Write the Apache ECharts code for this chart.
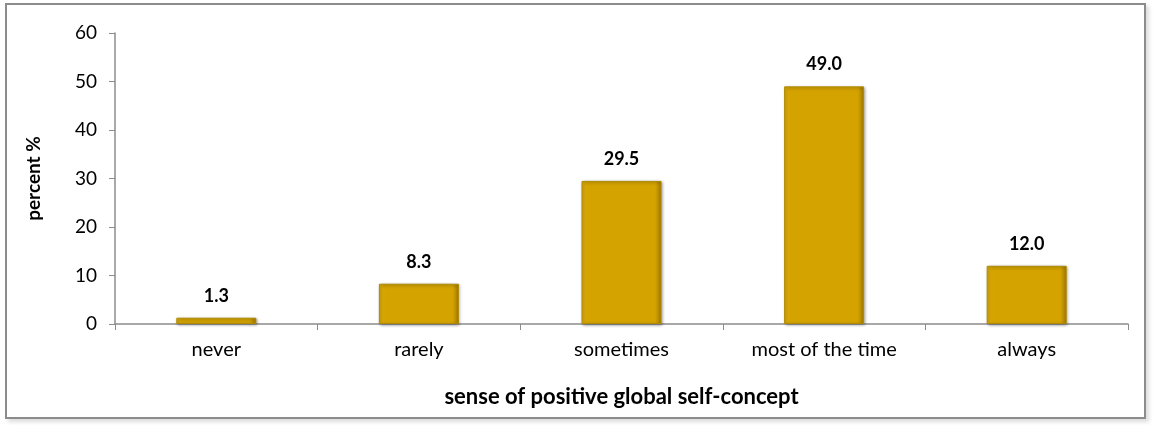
<!DOCTYPE html>
<html><head><meta charset="utf-8">
<script src="https://cdn.jsdelivr.net/npm/echarts@6/dist/echarts.min.js"></script>
<style>
html,body{margin:0;padding:0;background:#fff;}
#frame{position:absolute;left:5px;top:3px;width:1141px;height:416px;border:2px solid #8c8c8c;box-shadow:3px 3px 4px #ddd;box-sizing:border-box;}
#c{position:absolute;left:0;top:0;width:1154px;height:425px;}
</style></head>
<body>
<div id="frame"></div>
<div id="c"></div>
<script>
const categories = ['never','rarely','sometimes','most of the time','always'];
const values = [1.3, 8.3, 29.5, 49.0, 12.0];
const yTicks = [0,10,20,30,40,50,60];
const xTitle = 'sense of positive global self-concept';
const yTitle = 'percent %';

const chart = echarts.init(document.getElementById('c'), null, {renderer:'canvas'});
const font = 'Lato, "Open Sans", sans-serif';
chart.setOption({
  animation:false,
  grid:{left:115, right:26, top:33, bottom:101, containLabel:false},
  xAxis:{
    type:'category', data:categories,
    axisLine:{lineStyle:{color:'#8c8c8c', width:1.5}},
    axisTick:{show:true, alignWithLabel:false, length:6, lineStyle:{color:'#8c8c8c'}},
    axisLabel:{color:'#000', fontSize:20, fontFamily:font, margin:16},
    name:xTitle, nameLocation:'middle', nameGap:62,
    nameTextStyle:{color:'#000', fontSize:22, fontWeight:'bold', fontFamily:font}
  },
  yAxis:{
    type:'value', min:yTicks[0], max:yTicks[yTicks.length-1], interval:10,
    axisLine:{show:true, lineStyle:{color:'#8c8c8c', width:1.5}},
    axisTick:{show:true, length:6, lineStyle:{color:'#8c8c8c'}},
    splitLine:{show:false},
    axisLabel:{color:'#000', fontSize:19, fontFamily:font, margin:18},
    name:yTitle, nameLocation:'middle', nameGap:72, nameRotate:90,
    nameTextStyle:{color:'#000', fontSize:19, fontWeight:'bold', fontFamily:font}
  },
  series:[{
    type:'bar', data:values, barWidth:80,
    itemStyle:{
      color:new echarts.graphic.LinearGradient(0,0,1,0,[
        {offset:0,color:'#e0b010'},{offset:0.08,color:'#d4a300'},{offset:0.92,color:'#d4a300'},{offset:1,color:'#a07800'}]),
      borderColor:'#b08a00', borderWidth:1,
      shadowColor:'rgba(0,0,0,0.35)', shadowBlur:3, shadowOffsetX:1, shadowOffsetY:1
    },
    label:{show:true, position:'top', distance:13, color:'#000', fontSize:18, fontWeight:'bold', fontFamily:font,
      formatter:p=>p.value.toFixed(1)}
  }]
});
</script>
</body></html>
